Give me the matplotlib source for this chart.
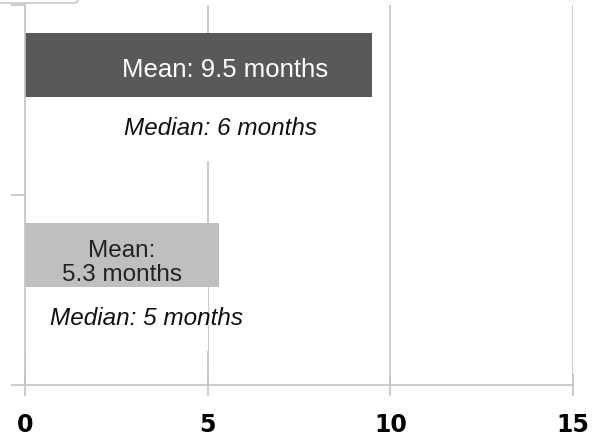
import matplotlib.pyplot as plt
from matplotlib.patches import FancyBboxPatch

# data
categories = ["Group B", "Group A"]          # bottom to top
mean_months = [5.3, 9.5]
median_months = [5, 6]
mean_labels = ["Mean:\n5.3 months", "Mean: 9.5 months"]
median_labels = ["Median: 5 months", "Median: 6 months"]
x_ticks = [0, 5, 10, 15]

mean_colors = ["#bfbfbf", "#595959"]
mean_text_colors = ["#222222", "white"]
grid_color = "#c4c4c4"

fig = plt.figure(figsize=(5.94, 4.41), dpi=100)
ax = fig.add_axes([25 / 594, 1 - 385 / 441, 548 / 594, 380 / 441])

ypos = list(range(len(categories)))
bar_h = 0.335
mean_off = 0.1825
median_off = -0.1525

ax.barh([y + mean_off for y in ypos], mean_months, height=bar_h,
        color=mean_colors, zorder=2)
ax.barh([y + median_off for y in ypos], median_months, height=bar_h,
        color="white", zorder=2)

# labels
ax.text(mean_months[1] - 1.2, ypos[1] + mean_off - 0.025, mean_labels[1],
        ha="right", va="center", fontsize=18.5, color=mean_text_colors[1],
        family="Liberation Sans", zorder=3)
ax.text(mean_months[0] / 2, ypos[0] + mean_off - 0.04, mean_labels[0],
        ha="center", va="center", fontsize=17.5, color=mean_text_colors[0],
        family="Liberation Sans", linespacing=1.15, zorder=3)
ax.text(5.35, ypos[1] + median_off, median_labels[1], ha="center",
        va="center", fontsize=17.5, style="italic", family="Liberation Sans",
        color="#111111", zorder=3)
ax.text(3.33, ypos[0] + median_off, median_labels[0], ha="center",
        va="center", fontsize=17.5, style="italic", family="Liberation Sans",
        color="#111111", zorder=3)

ax.set_xlim(0, 15)
ax.set_ylim(-0.5, 1.5)
ax.set_xticks(x_ticks)
ax.set_xticklabels([str(t) for t in x_ticks], fontsize=17, fontweight="bold",
                   family="DejaVu Sans")
ax.set_yticks([-0.5, 0.5, 1.5])
ax.set_yticklabels([])

ax.grid(axis="x", color=grid_color, linewidth=1.2, zorder=1)
ax.set_axisbelow(True)
for side in ["top", "right"]:
    ax.spines[side].set_visible(False)
for side in ["left", "bottom"]:
    ax.spines[side].set_color(grid_color)
    ax.spines[side].set_linewidth(1.2)
ax.tick_params(axis="x", direction="inout", length=16, color=grid_color,
               width=1.2, pad=12)
ax.tick_params(axis="y", direction="out", length=10, color=grid_color,
               width=1.2)

# clipped legend frame peeking in at the top-left corner
fig.patches.append(FancyBboxPatch((-10 / 594, 1 - 3 / 441), 88 / 594, 20 / 441,
                                  boxstyle="round,pad=0,rounding_size=0.008",
                                  transform=fig.transFigure, facecolor="white",
                                  edgecolor="#c8c8c8", linewidth=1.2))

fig.savefig("out.png", dpi=100)
